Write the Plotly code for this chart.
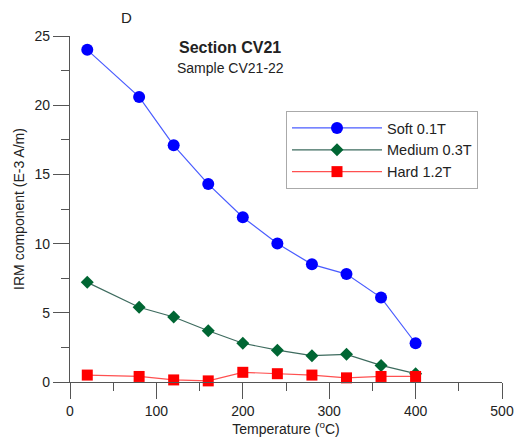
import plotly.graph_objects as go

temperature = [20, 80, 120, 160, 200, 240, 280, 320, 360, 400]
soft = [24.0, 20.6, 17.1, 14.3, 11.9, 10.0, 8.5, 7.8, 6.1, 2.8]
medium = [7.2, 5.4, 4.7, 3.7, 2.8, 2.3, 1.9, 2.0, 1.2, 0.6]
hard = [0.5, 0.4, 0.15, 0.08, 0.7, 0.6, 0.5, 0.3, 0.4, 0.4]
series_names = ["Soft 0.1T", "Medium 0.3T", "Hard 1.2T"]
x_ticks = [0, 100, 200, 300, 400, 500]
y_ticks = [0, 5, 10, 15, 20, 25]

FONT = "Liberation Sans, Arial, sans-serif"

fig = go.Figure()
fig.add_trace(go.Scatter(x=temperature, y=soft, name=series_names[0], mode="lines+markers",
                         line=dict(color="#4a5cff", width=1.2),
                         marker=dict(symbol="circle", size=12, color="#0000ff"),
                         cliponaxis=False))
fig.add_trace(go.Scatter(x=temperature, y=medium, name=series_names[1], mode="lines+markers",
                         line=dict(color="#3d6b5e", width=1.2),
                         marker=dict(symbol="diamond", size=10, color="#006633"),
                         cliponaxis=False))
fig.add_trace(go.Scatter(x=temperature, y=hard, name=series_names[2], mode="lines+markers",
                         line=dict(color="#ff5050", width=1.2),
                         marker=dict(symbol="square", size=11, color="#ff0000"),
                         cliponaxis=False))

L, R, T, B = 70, 16, 36, 59
W, H = 518, 441
pw, ph = W - L - R, H - T - B

def px(x):
    return (x - L) / pw

def py(y):
    return (H - B - y) / ph

fig.update_layout(
    width=W, height=H,
    margin=dict(l=L, r=R, t=T, b=B, autoexpand=False),
    paper_bgcolor="white", plot_bgcolor="white",
    font=dict(family=FONT, size=14, color="#222"),
    showlegend=True,
    legend=dict(x=px(286), y=py(111), xanchor="left", yanchor="top",
                bordercolor="#aaaaaa", borderwidth=1, bgcolor="white",
                font=dict(size=14.5, family=FONT, color="#222"),
                itemwidth=90, tracegroupgap=2),
    xaxis=dict(range=[0, 500], tickvals=x_ticks, showgrid=False, zeroline=False, automargin=False,
               showline=True, linecolor="#555", linewidth=1.2,
               ticks="outside", ticklen=16, tickcolor="#555", tickwidth=1.2,
               minor=dict(ticks="outside", ticklen=8, dtick=50, tickcolor="#555", tickwidth=1.2, showgrid=False),
               title=dict(text="Temperature (<sup>o</sup>C)", font=dict(size=14), standoff=2),
               tickfont=dict(size=14)),
    yaxis=dict(range=[0, 25], tickvals=y_ticks, showgrid=False, zeroline=False, automargin=False,
               showline=True, linecolor="#555", linewidth=1.2,
               ticks="outside", ticklen=16, tickcolor="#555", tickwidth=1.2,
               minor=dict(ticks="outside", ticklen=8, dtick=2.5, tickcolor="#555", tickwidth=1.2, showgrid=False),
               title=dict(text="IRM component (E-3 A/m)", font=dict(size=14), standoff=6),
               tickfont=dict(size=14)),
    annotations=[
        dict(text="<b>Section CV21</b>", x=px(230), y=py(48), xref="paper", yref="paper",
             showarrow=False, font=dict(size=16), xanchor="center", yanchor="middle"),
        dict(text="Sample CV21-22", x=px(230), y=py(68), xref="paper", yref="paper",
             showarrow=False, font=dict(size=14), xanchor="center", yanchor="middle"),
        dict(text="D", x=px(126), y=py(18), xref="paper", yref="paper",
             showarrow=False, font=dict(size=15), xanchor="center", yanchor="middle"),
    ],
)

fig.write_html("out.html")
